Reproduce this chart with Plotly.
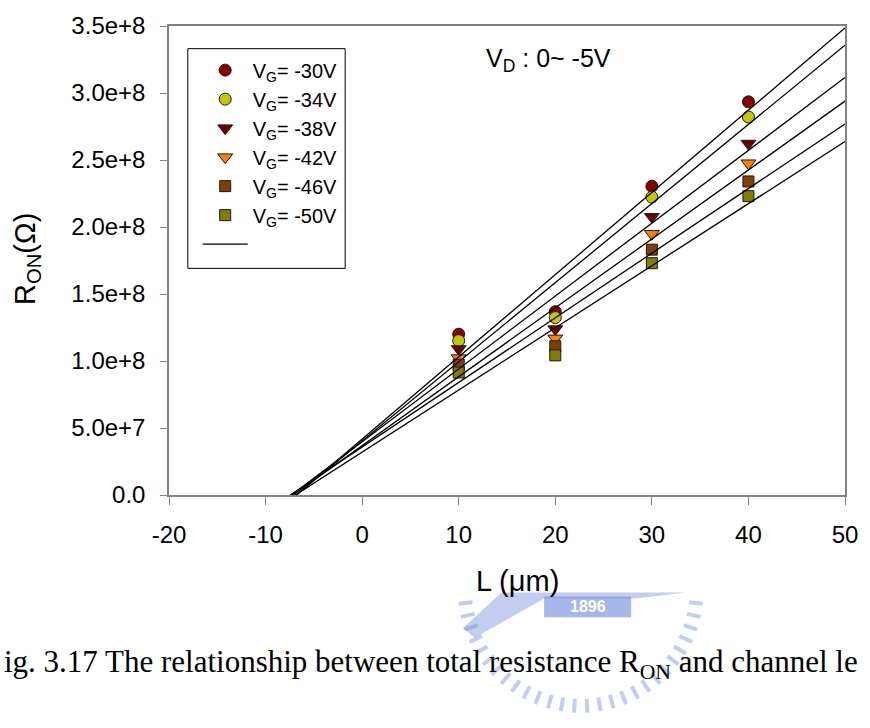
import numpy as np
import plotly.graph_objects as go

# Channel lengths (um) and total on-resistance (ohm) for each gate voltage
L_um = [10, 20, 30, 40]
R_vg30 = [1.200e8, 1.368e8, 2.304e8, 2.934e8]
R_vg34 = [1.152e8, 1.324e8, 2.223e8, 2.821e8]
R_vg38 = [1.090e8, 1.238e8, 2.076e8, 2.623e8]
R_vg42 = [1.022e8, 1.169e8, 1.949e8, 2.476e8]
R_vg46 = [0.973e8, 1.110e8, 1.831e8, 2.340e8]
R_vg50 = [0.914e8, 1.042e8, 1.730e8, 2.230e8]

series_names = ["V<sub>G</sub>= -30V", "V<sub>G</sub>= -34V", "V<sub>G</sub>= -38V",
                "V<sub>G</sub>= -42V", "V<sub>G</sub>= -46V", "V<sub>G</sub>= -50V"]
series_values = [R_vg30, R_vg34, R_vg38, R_vg42, R_vg46, R_vg50]

x_tick_vals = [-20, -10, 0, 10, 20, 30, 40, 50]
x_tick_text = ["-20", "-10", "0", "10", "20", "30", "40", "50"]
y_tick_vals = [0, 5e7, 1e8, 1.5e8, 2e8, 2.5e8, 3e8, 3.5e8]
y_tick_text = ["0.0", "5.0e+7", "1.0e+8", "1.5e+8", "2.0e+8", "2.5e+8", "3.0e+8", "3.5e+8"]
x_range = [-20, 50]
y_range = [0, 3.5e8]

symbols = ["circle", "circle", "triangle-down", "triangle-down", "square", "square"]
sizes = [12, 12, 13, 13, 11, 11]
colors = ["#8C0000", "#C4C800", "#700000", "#FF8000", "#804000", "#808000"]

W, H = 870, 728
PL, PR, PT, PB = 169, 852, 19, 495  # plot area in pixels
SANS = "Liberation Sans, Arial, sans-serif"


def px(x, y):
    """pixel position on the page -> paper coordinates"""
    return (x - PL) / (PR - PL), (PB - y) / (PB - PT)


fig = go.Figure()

for name, vals, sym, sz, col in zip(series_names, series_values, symbols, sizes, colors):
    fig.add_trace(go.Scatter(
        x=L_um, y=vals, mode="markers", name=name,
        marker=dict(symbol=sym, size=sz, color=col, line=dict(color="#1a1a1a", width=1)),
    ))

# linear regression line for each gate voltage, extended over the whole x axis
x_fit = np.array(x_range, dtype=float)
for i, vals in enumerate(series_values):
    slope, icpt = np.polyfit(L_um, vals, 1)
    fig.add_trace(go.Scatter(
        x=x_fit, y=slope * x_fit + icpt, mode="lines", name="",
        line=dict(color="black", width=1.3), showlegend=(i == 0),
    ))

axis_common = dict(
    showline=True, linecolor="#808080", linewidth=1.5, mirror=True,
    ticks="outside", tickcolor="#808080", tickwidth=1,
    showgrid=False, zeroline=False,
    tickfont=dict(family=SANS, size=24, color="black"),
)

fig.update_xaxes(range=x_range, tickvals=x_tick_vals, ticktext=x_tick_text, ticklen=8,
                 ticklabelstandoff=9, **axis_common)
fig.update_yaxes(range=y_range, tickvals=y_tick_vals, ticktext=y_tick_text, ticklen=7,
                 ticklabelstandoff=10, **axis_common)

shapes = []
annotations = []

# legend frame
lx0, ly1 = px(188, 42)
lx1, ly0 = px(347, 265)
shapes.append(dict(type="rect", xref="paper", yref="paper", x0=lx0, x1=lx1, y0=ly0, y1=ly1,
                   line=dict(color="black", width=1), fillcolor="rgba(0,0,0,0)"))

# axis titles
tx, ty = px(521, 582)
annotations.append(dict(text="L (\u03bcm)", xref="paper", yref="paper", x=tx, y=ty,
                        xanchor="center", yanchor="middle", showarrow=False,
                        font=dict(family=SANS, size=29, color="black")))
tx, ty = px(25, 255)
annotations.append(dict(text="R<sub>ON</sub>(\u03a9)", xref="paper", yref="paper", x=tx, y=ty,
                        xanchor="center", yanchor="middle", textangle=-90, showarrow=False,
                        font=dict(family=SANS, size=29, color="black")))

# drain bias note
tx, ty = px(487, 54)
annotations.append(dict(text="V<sub>D</sub> : 0~ -5V", xref="paper", yref="paper", x=tx, y=ty,
                        xanchor="left", yanchor="middle", showarrow=False,
                        font=dict(family=SANS, size=25, color="black")))

# faint university emblem behind the caption
wm = "rgba(120,145,220,0.45)"
cx, cy, rad = 585, 592, 124
for ang in np.linspace(0, np.pi, 30):
    x_in, y_in = cx + (rad - 14) * np.cos(ang), cy + (rad - 14) * np.sin(ang)
    x_out, y_out = cx + rad * np.cos(ang), cy + rad * np.sin(ang)
    if y_in < 596 or y_out > H:
        continue
    a0, b0 = px(x_in, y_in)
    a1, b1 = px(x_out, y_out)
    shapes.append(dict(type="line", xref="paper", yref="paper", x0=a0, y0=b0, x1=a1, y1=b1,
                       line=dict(color=wm, width=4), layer="below"))

poly_px = [(505, 594), (690, 594), (640, 600), (548, 600), (478, 640), (466, 630), (505, 594)]
path = "M " + " L ".join("{:.5f},{:.5f}".format(*px(x, y)) for x, y in poly_px) + " Z"
shapes.append(dict(type="path", xref="paper", yref="paper", path=path,
                   fillcolor="rgba(120,145,220,0.45)", line=dict(width=0), layer="below"))

bx0, by1 = px(548, 598)
bx1, by0 = px(636, 619)
shapes.append(dict(type="rect", xref="paper", yref="paper", x0=bx0, x1=bx1, y0=by0, y1=by1,
                   fillcolor="rgba(120,145,220,0.65)", line=dict(width=0), layer="below"))
tx, ty = px(592, 608)
annotations.append(dict(text="<b>1896</b>", xref="paper", yref="paper", x=tx, y=ty,
                        xanchor="center", yanchor="middle", showarrow=False,
                        font=dict(family=SANS, size=16, color="white")))

# figure caption, as it appears on the page
tx, ty = px(0, 667)
annotations.append(dict(text="ig. 3.17 The relationship between total resistance R<sub>ON</sub> and channel le",
                        xref="paper", yref="paper", x=tx, y=ty, xanchor="left", yanchor="middle",
                        showarrow=False,
                        font=dict(family="Liberation Serif, Times New Roman, serif", size=31, color="black")))

lgx, lgy = px(198, 44)
fig.update_layout(
    width=W, height=H,
    margin=dict(l=PL, r=W - PR, t=PT, b=H - PB),
    paper_bgcolor="white", plot_bgcolor="white",
    shapes=shapes, annotations=annotations,
    legend=dict(x=lgx, y=lgy, xanchor="left", yanchor="top", bgcolor="rgba(0,0,0,0)",
                borderwidth=0, itemwidth=45,
                font=dict(family=SANS, size=20, color="black")),
)

fig.write_html("out.html")
